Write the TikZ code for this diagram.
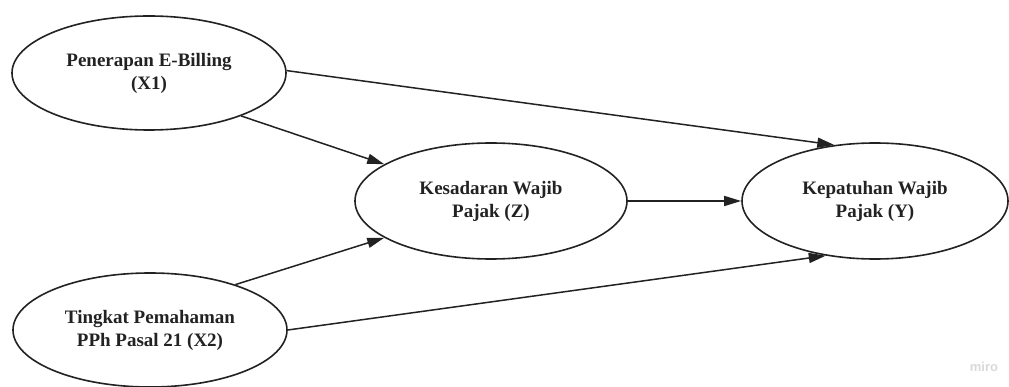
\documentclass[tikz,border=0pt]{standalone}
\usepackage{fontspec}
\setmainfont{Liberation Serif}
\newfontfamily\marksans{Liberation Sans}
\usetikzlibrary{shapes.geometric,arrows.meta}
\definecolor{inkgray}{HTML}{222222}
\begin{document}
\begin{tikzpicture}[x=1pt,y=-1pt,
  construct/.style={ellipse, draw=inkgray, line width=1.6pt, inner sep=0pt,
    minimum width=274pt, minimum height=114pt, align=center,
    font=\fontsize{19}{23}\selectfont\bfseries, text=inkgray},
  path/.style={draw=inkgray, line width=1.5pt,
    -{Triangle[length=17pt,width=10pt]}}]
  \useasboundingbox (0,0) rectangle (1009,387);
  \node[construct] (x1) at (149,73) {Penerapan E-Billing\\(X1)};
  \node[construct, minimum width=272pt, minimum height=116pt] (z) at (491,201) {Kesadaran Wajib\\Pajak (Z)};
  \node[construct, minimum width=266pt, minimum height=116pt] (y) at (875,201) {Kepatuhan Wajib\\Pajak (Y)};
  \node[construct] (x2) at (150,330) {Tingkat Pemahaman\\PPh Pasal 21 (X2)};
  \draw[path] (x1.1) -- (y.126);
  \draw[path] (x1.-25) -- (z.161);
  \draw[path] (x2.28) -- (z.199);
  \draw[path] (z.east) -- (y.west);
  \draw[path] (x2.0) -- (y.228);
  \node[font=\marksans\bfseries\fontsize{13}{13}\selectfont, text=black!15] (brand) at (984,367) {miro};
\end{tikzpicture}
\end{document}
